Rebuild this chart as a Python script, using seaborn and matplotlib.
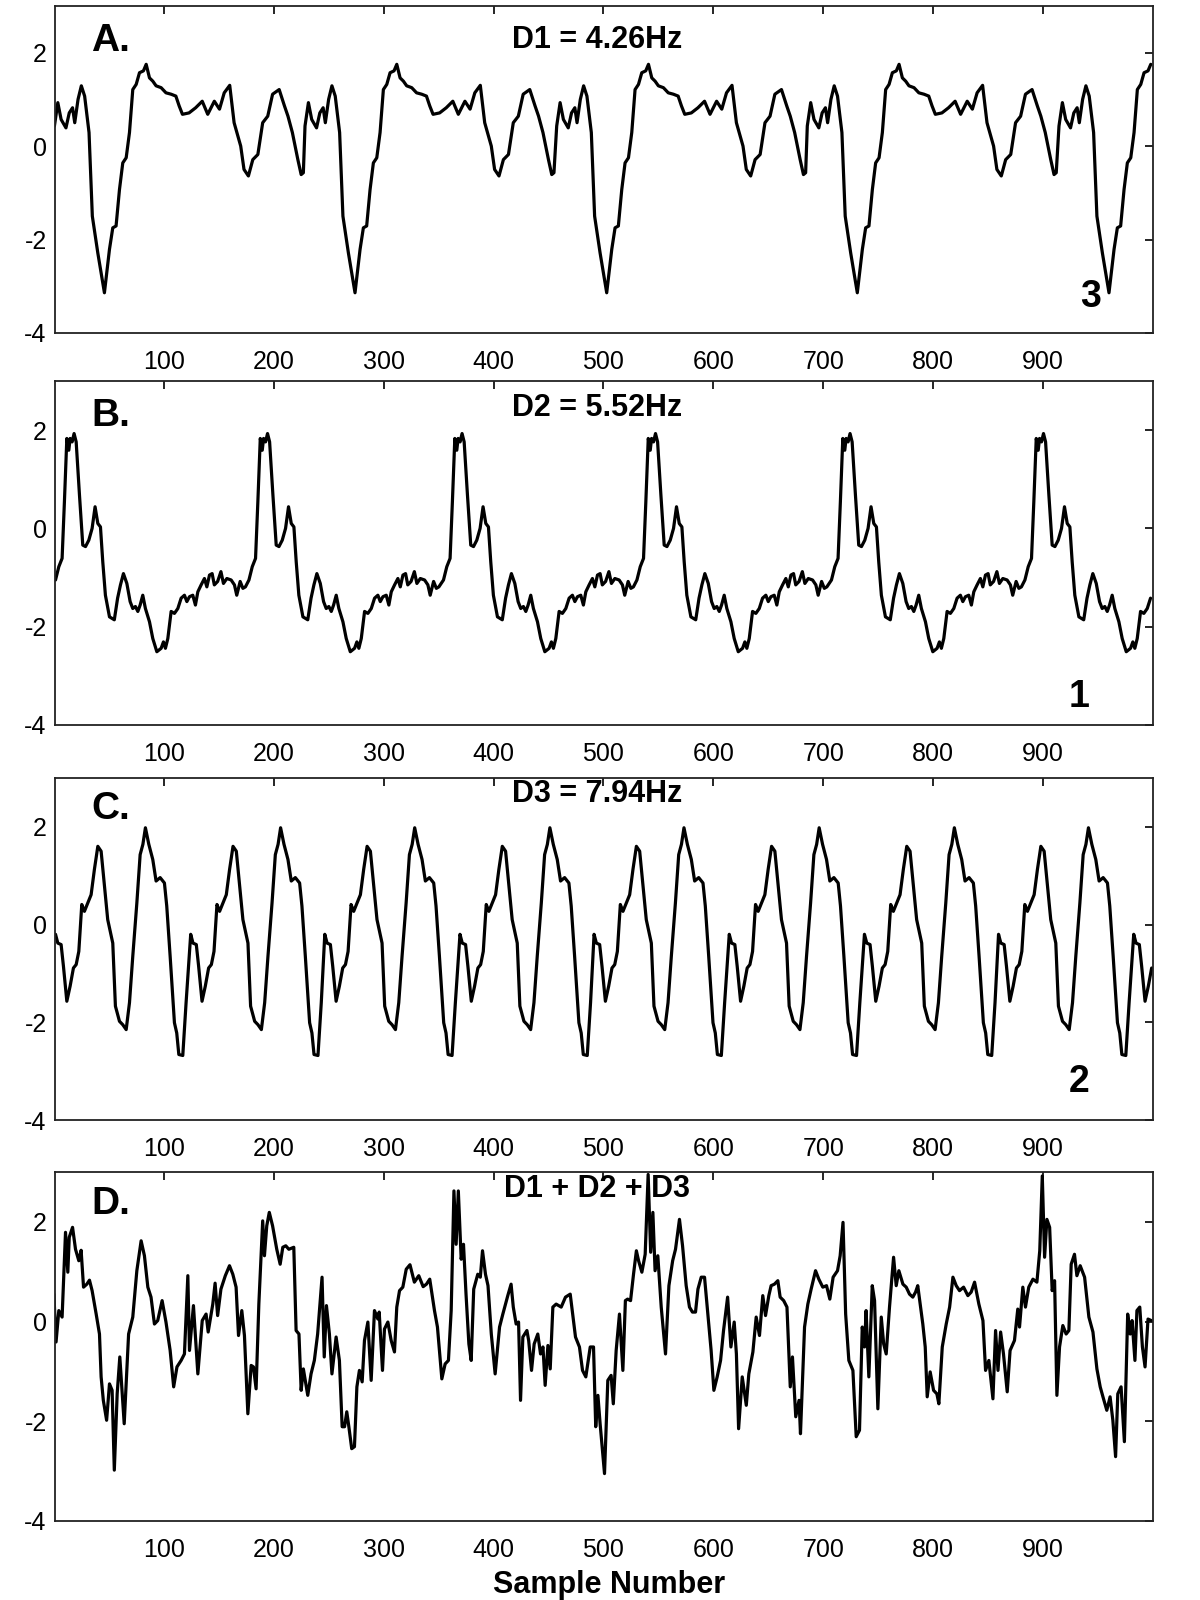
import matplotlib
matplotlib.use('Agg')
import matplotlib.pyplot as plt
import seaborn as sns

# one cycle of each component, (sample offset, value)
A_cycle = [(0.5, 0.43), (3.6, 0.93), (6.6, 0.57), (11, 0.39), (14, 0.71), (17, 0.82), (19, 0.5),
           (22, 1.0), (25, 1.29), (28, 1.07), (32, 0.29), (35, -1.5), (40, -2.29), (46, -3.14),
           (50.6, -2.21), (53.6, -1.75), (56.6, -1.71), (59.7, -0.93), (62.7, -0.36), (65.8, -0.25),
           (68.8, 0.29), (71.8, 1.21), (74.9, 1.32), (77.9, 1.57), (81.5, 1.61), (84, 1.75),
           (87, 1.46), (90, 1.39), (93, 1.29), (97.6, 1.25), (102, 1.14), (106.7, 1.11), (111, 1.07),
           (114, 0.86), (117, 0.68), (123, 0.71), (129, 0.82), (135, 0.96), (140, 0.68), (146, 0.96),
           (150.7, 0.79), (155, 1.14), (160, 1.3), (164, 0.5), (170, 0.0), (173, -0.5), (177, -0.64),
           (181, -0.29), (185.6, -0.18), (190, 0.5), (194.6, 0.64), (199, 1.11), (205, 1.21),
           (209.8, 0.86), (213, 0.64), (217, 0.29), (222, -0.29), (225, -0.61), (227, -0.57)]
A_starts = [0, 228, 457, 685, 914]

B_cycle = [(1.5, -1.05), (4.5, -0.78), (7.5, -0.61), (9.6, 0.54), (11.8, 1.83), (13.6, 1.59),
           (14.8, 1.83), (16.6, 1.76), (18.4, 1.93), (20.3, 1.76), (23.3, 0.68), (26.3, -0.34),
           (28.8, -0.37), (31.8, -0.24), (34.8, 0.0), (37.5, 0.44), (40, 0.1), (42.4, 0.03),
           (44.5, -0.68), (46.9, -1.36), (50.6, -1.8), (55, -1.86), (58, -1.42), (60.6, -1.15),
           (63.3, -0.92), (66.4, -1.12), (69.4, -1.49), (71.8, -1.63), (74.2, -1.59), (76.4, -1.69),
           (78.5, -1.56), (80.9, -1.36), (83.3, -1.63), (87, -1.9), (90, -2.24), (93.7, -2.51),
           (97.6, -2.44), (99.7, -2.31), (101.5, -2.44), (103.7, -2.24), (106.7, -1.69),
           (109.7, -1.73), (112.8, -1.63), (115.8, -1.42), (118.8, -1.36), (121, -1.49),
           (123.4, -1.39), (126.4, -1.36), (128.8, -1.56), (131, -1.29), (134, -1.15), (137, -1.02),
           (139.2, -1.19), (141.6, -0.95), (144, -0.92), (146, -1.15), (149, -1.08), (152, -0.88),
           (154.3, -1.12), (157.4, -1.02), (161.3, -1.05), (164.3, -1.15), (166.4, -1.36),
           (169.5, -1.08), (172, -1.22), (174.3, -1.19)]
B_starts = [0, 176, 353, 529, 706, 882]

C_cycle = [(1.5, -0.2), (3.6, -0.38), (6.6, -0.41), (8.7, -0.85), (11.8, -1.57), (14.8, -1.26),
           (17.8, -0.89), (20.3, -0.82), (22.7, -0.55), (25.4, 0.41), (27.8, 0.27), (30.9, 0.44),
           (33.9, 0.61), (36.9, 1.13), (40, 1.6), (43, 1.5), (46, 0.79), (49, 0.1), (53.6, -0.38),
           (56, -1.67), (59.7, -1.98), (62.7, -2.05), (65.8, -2.15), (68.8, -1.6), (71.8, -0.65),
           (75.5, 0.44), (78.5, 1.43), (81, 1.64), (83.3, 1.98), (86.4, 1.64), (90, 1.33),
           (93, 0.89), (96.7, 0.96), (100.6, 0.85), (102.7, 0.38), (105.8, -0.65), (109.7, -2.01),
           (111.8, -2.22), (113.7, -2.66), (117.3, -2.68), (120.3, -1.6)]
C_starts = [0, 123, 245, 368, 490, 613, 736, 858, 981]

# combined signal, read point by point
D_points = [
    (0, 0.55), (2, -0.41), (4.5, 0.22), (7.5, 0.09), (10.6, 1.79), (12.7, 0.99), (14, 1.69),
    (17, 1.89), (19.7, 1.45), (22.7, 1.22), (24.8, 1.43), (27, 0.69), (30, 0.75), (32.4, 0.83),
    (34.8, 0.62), (38.5, 0.15), (41.5, -0.25), (43, -1.11), (45, -1.58), (48, -1.98),
    (50.6, -1.25), (53, -1.38), (55, -2.98), (57.6, -1.45), (60, -0.71), (64, -2.05),
    (68, -0.25), (71.8, 0.09), (75.5, 1.02), (79.4, 1.62), (82.4, 1.32), (85.5, 0.69),
    (88.4, 0.49), (91.5, -0.05), (94.5, 0.02), (98.5, 0.42), (102, -0.01), (105.8, -0.58),
    (109, -1.31), (112, -0.91), (115.8, -0.78), (118.8, -0.65), (121.9, 0.92), (123.4, -0.58),
    (127, 0.32), (131, -1.05), (135, 0.02), (138.5, 0.15), (140.4, -0.21), (144.6, 0.35),
    (146.7, 0.77), (149, 0.12), (152, 0.65), (156, 0.92), (159.8, 1.12), (162.8, 0.95),
    (165.8, 0.69), (168, -0.28), (171, 0.22), (173.4, -0.28), (176.5, -1.85), (179.5, -0.88),
    (181.6, -0.91), (184, -1.35), (186.5, 0.35), (190, 2.02), (191.6, 1.32), (193.7, 1.92),
    (196, 2.19), (199, 1.92), (202.8, 1.45), (205.9, 1.15), (208.3, 1.49), (211, 1.52),
    (213.8, 1.45), (218.3, 1.49), (220.4, -0.18), (223, -0.25), (225, -1.38), (227, -0.95),
    (231, -1.48), (234, -1.05), (237, -0.78), (240, -0.25),
    (244, 0.89), (246, -0.71), (248, 0.32), (250.7, -0.25), (253, -1.05), (256.8, -0.31),
    (259.8, -0.78), (262.3, -2.11), (264.5, -2.11), (266.5, -1.81), (268.4, -2.11),
    (271, -2.55), (273.5, -2.51), (275.7, -1.31), (278, -0.98), (280.5, -1.21), (282.6, -0.38),
    (285.7, -0.01), (288.7, -1.18), (291.7, 0.22), (294.8, 0.05), (296, 0.19), (299, -0.98),
    (300.8, -0.15), (303.9, -0.01), (306.9, -0.38), (309.9, -0.61), (312, 0.29), (314.5, 0.62),
    (317.5, 0.69), (320.6, 1.05), (324, 1.14), (328, 0.79), (332, 0.92), (336, 0.7), (339, 0.75),
    (342, 0.85), (346.3, 0.22), (349, -0.11), (353, -1.15), (356, -0.85), (359, -0.78),
    (361.5, 0.22), (364, 2.62), (366, 1.55), (368, 2.62), (370.6, 1.25), (372.7, 1.55),
    (375, 0.55), (377.6, -0.45), (379.7, -0.78), (382, 0.65), (385.7, 0.95), (388, 0.89),
    (390, 1.42), (392.7, 0.95), (395, 0.72), (398, -0.25), (401.5, -1.05), (405.5, -0.11),
    (408.5, 0.15), (413, 0.52), (416, 0.75), (418, 0.29), (420.6, -0.05), (422.8, -0.01),
    (424.6, -1.58), (426.7, -0.31), (430.4, -0.18), (432, -0.38), (434.6, -0.98), (437, -0.45),
    (440.3, -0.25), (442.8, -0.65), (445, -0.51), (447, -1.28), (449.5, -0.48), (451.6, -0.95),
    (454, 0.29), (457, 0.35), (461.6, 0.29), (465.5, 0.49), (469.8, 0.55), (474.6, -0.31),
    (478.2, -0.51), (481, -0.98), (484, -1.11), (488, -0.51),
    (491, -0.51), (493, -2.11), (495, -1.48), (497, -2.05), (501, -3.05), (504, -1.18),
    (507, -1.08), (509, -1.65), (511.6, -0.58), (514.6, 0.15), (517.7, -0.98), (520, 0.42),
    (522, 0.45), (524.7, 0.42), (527.4, 0.95), (530, 1.42), (532, 1.22), (535, 0.99),
    (538, 1.35), (540.7, 2.95), (543, 1.39), (545, 2.19), (547, 1.02), (549.5, 1.32),
    (552.6, 0.29), (556.5, -0.65), (559.6, 0.72), (563, 1.22), (565.6, 1.45), (569.2, 2.05),
    (572, 1.52), (575.3, 0.72), (578.3, 0.29), (581, 0.19), (583.8, 0.19), (586, 0.65),
    (589, 0.89), (592, 0.89), (595, 0.15), (598, -0.58), (600.5, -1.38), (603.5, -1.11),
    (606.6, -0.78), (609.3, -0.18), (613, 0.49), (616, -0.51), (619, -0.01), (621, -0.65),
    (623, -2.15), (626.3, -1.11), (630, -1.68), (632.3, -1.05), (636, -0.61), (639, 0.09),
    (642, -0.28), (645, 0.52), (647.5, 0.12), (650.5, 0.52), (652.6, 0.72), (655.6, 0.75),
    (658.7, 0.82), (660.8, 0.49), (664, 0.42), (667, 0.29), (670, -1.31), (672, -0.71),
    (675, -1.91), (678, -1.58), (679.3, -2.25), (683, -0.11), (686, 0.35), (689, 0.65),
    (693, 1.02), (696, 0.85), (699.6, 0.69), (703, 0.72), (706, 0.45), (709, 0.89), (713, 1.02),
    (715.4, 1.32), (718, 1.99), (720.4, 0.15), (723.3, -0.78), (727, -0.98), (730, -2.31),
    (733, -2.18), (735.5, -0.11), (737.6, -0.51), (739, 0.22), (741.5, -1.11), (744.6, 0.72),
    (746.7, 0.42), (749.7, -1.75), (752.8, 0.09), (755, -0.45), (757.3, -0.65), (760.3, 0.29),
    (764, 1.29), (766.4, 0.72), (768.8, 1.02), (772.5, 0.75), (775.5, 0.69), (778.5, 0.55),
    (781.5, 0.49), (784, 0.59), (786, 0.72), (790.6, -0.05), (792.8, -0.51), (794.6, -1.51),
    (797.3, -1.01), (800.4, -1.38), (803.4, -1.45), (805.2, -1.65), (808.3, -0.51),
    (811.9, -0.05), (815, 0.29), (818, 0.89), (821, 0.72), (824, 0.62), (827.7, 0.69),
    (831.6, 0.52), (834.6, 0.59), (837.7, 0.79), (841.6, 0.35), (845.3, 0.02), (847.7, -0.98),
    (850.7, -0.78), (854.4, -1.55), (856.8, -0.18), (859, -0.98), (861.4, -0.21), (864, -0.65),
    (867.4, -1.41), (870, -0.58), (874, -0.38), (877, 0.25), (878.6, -0.11), (881.6, 0.69),
    (884, 0.29), (887, 0.69), (890.8, 0.85), (894.4, 0.79), (897, 1.42), (899.3, 2.92),
    (901.4, 1.29), (903.5, 2.05), (906, 1.89), (908.3, 0.62), (910.5, 0.82), (912.6, -1.48),
    (915, -0.51), (918, -0.08), (921, -0.25), (923.5, -0.18), (925.6, 1.15), (928.6, 1.35),
    (930.8, 0.92), (933.8, 1.12), (937.8, 0.89), (941.7, 0.09), (945.4, -0.21), (949, -0.95),
    (952, -1.31), (954.5, -1.51), (958, -1.78), (961, -1.51), (963.5, -1.98), (966, -2.71),
    (968, -1.45), (971, -1.31), (974, -2.41), (977, 0.15), (979.3, -0.25), (981, 0.02),
    (983.6, -0.78), (985.4, 0.22), (988, 0.29), (990.4, -0.51), (992.8, -0.91), (995.5, 0.05),
    (998.5, 0.02)]

titles = ['D1 = 4.26Hz', 'D2 = 5.52Hz', 'D3 = 7.94Hz', 'D1 + D2 + D3']
letters = ['A.', 'B.', 'C.', 'D.']
order_marks = ['3', '1', '2', None]
x_ticks = [100, 200, 300, 400, 500, 600, 700, 800, 900]
y_ticks = [-4, -2, 0, 2]


def tile(cycle, starts, xmax=1000):
    xs, ys = [], []
    for s0 in starts:
        for dx, v in cycle:
            if s0 + dx <= xmax:
                xs.append(s0 + dx)
                ys.append(v)
    return xs, ys


series = [tile(A_cycle, A_starts), tile(B_cycle, B_starts), tile(C_cycle, C_starts),
          ([p[0] for p in D_points], [p[1] for p in D_points])]

sns.set_style('white')
plt.rcParams['font.family'] = ['Liberation Sans', 'DejaVu Sans']
plt.rcParams['axes.unicode_minus'] = False
plt.rcParams['text.color'] = 'black'
plt.rcParams['xtick.color'] = 'black'
plt.rcParams['ytick.color'] = 'black'

fig = plt.figure(figsize=(12, 16), dpi=100)
# axes boxes [left, bottom, width, height]
boxes = [[0.0458, 0.7919, 0.915, 0.2044],
         [0.0458, 0.5469, 0.915, 0.2150],
         [0.0458, 0.3000, 0.915, 0.2138],
         [0.0458, 0.0494, 0.915, 0.2181]]
title_y = [0.897, 0.922, 0.953, 0.950]
letter_y = [0.893, 0.897, 0.908, 0.907]
mark_pos = [(0.9435, 0.109), (0.933, 0.081), (0.933, 0.112)]

for i, (xs, ys) in enumerate(series):
    ax = fig.add_axes(boxes[i])
    sns.lineplot(x=xs, y=ys, ax=ax, color='black', linewidth=2.3, estimator=None, sort=False)
    ax.set_xlim(1, 1000)
    ax.set_ylim(-4, 3)
    ax.set_xticks(x_ticks)
    ax.set_yticks(y_ticks)
    ax.tick_params(direction='in', top=True, right=True, length=6, width=1.2,
                   labelsize=18, pad=12)
    ax.tick_params(axis='y', pad=6)
    for sp in ax.spines.values():
        sp.set_visible(True)
        sp.set_linewidth(1.3)
        sp.set_color('#222222')
    ax.text(0.494, title_y[i], titles[i], transform=ax.transAxes, ha='center', va='center',
            fontsize=22, fontweight='bold')
    ax.text(0.033, letter_y[i], letters[i], transform=ax.transAxes, ha='left', va='center',
            fontsize=28, fontweight='bold')
    if order_marks[i]:
        ax.text(mark_pos[i][0], mark_pos[i][1], order_marks[i], transform=ax.transAxes,
                ha='center', va='center', fontsize=27, fontweight='bold')

fig.text(0.5075, 0.0094, 'Sample Number', ha='center', va='center', fontsize=22, fontweight='bold')

fig.savefig('out.png', dpi=100)
